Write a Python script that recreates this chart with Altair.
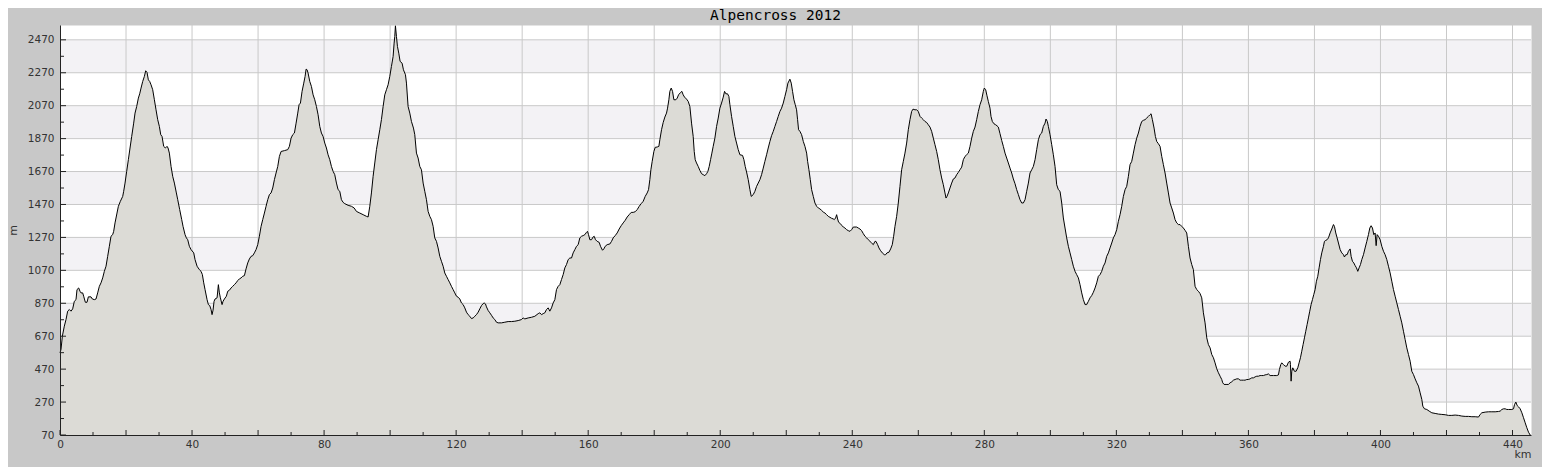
import altair as alt
import pandas as pd

# ---------------- elevation profile (km, m) ----------------
km_a = [0.0, 0.3, 0.71, 1.31, 1.82, 2.32, 2.83, 3.33, 3.84, 4.34,
        4.85, 5.15, 5.66, 6.06, 6.36, 6.87, 7.17, 7.68, 8.18, 8.59,
        9.39, 9.8, 10.4, 10.91, 11.41, 11.92, 12.42, 12.93, 13.43, 13.94,
        14.44, 14.95, 15.45, 15.96, 16.26, 16.67, 17.27, 17.68, 18.28, 18.99,
        19.29, 19.7, 20.2, 20.71, 21.21, 21.72, 22.32, 22.73, 23.23, 23.74,
        24.14, 24.55, 25.05, 25.56, 25.96, 26.36, 26.77, 27.17, 27.58, 28.08,
        28.59, 29.09, 29.6, 30.1, 30.51, 30.91, 31.41, 31.92, 32.42, 32.73,
        33.13, 33.64, 34.14, 34.65, 35.25, 35.66, 36.26, 36.87, 37.27, 37.88,
        38.28, 38.69, 39.19, 39.7, 40.51, 40.91, 41.52, 42.22, 42.73, 43.13,
        43.54, 43.94, 44.55, 44.95, 45.35, 45.76, 46.06, 46.36, 46.67, 46.97,
        47.58, 47.98, 48.28, 48.59, 49.09, 49.39, 49.8, 50.4, 50.81, 51.31,
        51.82, 52.32, 52.83, 53.33, 53.84, 54.34, 54.85, 55.35, 55.86, 56.36,
        56.87, 57.37, 57.88, 58.38, 58.89, 59.39, 59.9, 60.4, 60.91, 61.41,
        61.92, 62.42, 62.93, 63.43, 63.94, 64.44, 64.95, 65.45, 65.96, 66.46,
        66.97, 67.98, 68.99, 69.49, 70.0, 70.51, 71.01, 71.52, 72.02, 72.42,
        72.83, 73.33, 73.84, 74.24, 74.55, 74.85]
m_a = [569, 589, 670, 731, 771, 822, 832, 822, 836, 882,
       892, 953, 963, 943, 933, 933, 913, 876, 876, 909,
       909, 896, 892, 896, 933, 973, 994, 1024, 1064, 1095,
       1155, 1216, 1277, 1287, 1307, 1358, 1418, 1459, 1489, 1519,
       1550, 1600, 1671, 1742, 1813, 1883, 1964, 2025, 2065, 2116,
       2142, 2177, 2217, 2248, 2282, 2272, 2227, 2217, 2197, 2167,
       2106, 2045, 1985, 1944, 1894, 1883, 1823, 1813, 1823, 1813,
       1782, 1701, 1641, 1600, 1540, 1499, 1439, 1378, 1337, 1287,
       1267, 1256, 1216, 1196, 1176, 1135, 1095, 1074, 1064, 1044,
       994, 953, 892, 862, 856, 832, 801, 828, 882, 896,
       903, 983, 933, 903, 862, 882, 896, 913, 943, 949,
       963, 973, 983, 994, 1008, 1018, 1024, 1034, 1038, 1079,
       1115, 1139, 1155, 1159, 1176, 1196, 1226, 1277, 1337, 1378,
       1418, 1459, 1499, 1530, 1540, 1570, 1621, 1661, 1701, 1762,
       1792, 1797, 1803, 1823, 1873, 1894, 1904, 1964, 2025, 2076,
       2086, 2157, 2207, 2248, 2292, 2288]

km_b = [75.15, 75.66, 76.16, 76.67, 77.17, 77.68, 78.18, 78.69, 79.19, 79.7,
        80.2, 80.71, 81.21, 81.72, 82.22, 82.73, 83.23, 83.74, 84.24, 84.75,
        85.25, 85.76, 86.26, 87.27, 88.28, 89.09, 89.8, 90.81, 91.82, 92.83,
        93.33, 93.84, 94.34, 94.85, 95.35, 95.86, 96.36, 96.87, 97.37, 97.88,
        98.38, 98.89, 99.39, 99.9, 100.4, 100.91, 101.21, 101.41, 101.61, 101.92,
        102.22, 102.62, 103.03, 103.63, 104.04, 104.65, 104.95, 105.45, 105.96, 106.46,
        107.07, 107.47, 107.98, 108.48, 108.99, 109.49, 110.0, 110.5, 111.01, 111.51,
        112.02, 112.52, 113.03, 113.53, 114.04, 114.54, 115.05, 115.55, 116.06, 116.56,
        117.07, 117.57, 118.08, 118.58, 119.09, 119.59, 120.1, 120.6, 121.11, 121.61,
        122.12, 122.62, 123.13, 123.63, 124.14, 124.65, 125.15, 125.66, 126.16, 126.67,
        127.17, 127.68, 128.18, 128.48, 128.89, 129.19, 129.7, 130.2, 130.71, 131.21,
        131.72, 132.22, 132.73, 133.74, 134.75, 135.76, 136.77, 137.78, 138.79, 139.8,
        140.3, 140.81, 141.82, 142.83, 143.84, 144.85, 145.35, 145.86, 146.36, 146.87,
        147.37, 147.88, 148.38, 148.89, 149.39, 149.9]
m_b = [2268, 2217, 2187, 2136, 2106, 2065, 2015, 1944, 1904, 1883,
       1843, 1813, 1772, 1742, 1701, 1671, 1651, 1600, 1560, 1550,
       1499, 1483, 1475, 1465, 1459, 1449, 1428, 1418, 1408, 1398,
       1394, 1459, 1540, 1641, 1722, 1803, 1863, 1924, 1985, 2065,
       2136, 2167, 2197, 2248, 2308, 2369, 2450, 2490, 2555, 2490,
       2430, 2389, 2339, 2328, 2288, 2258, 2207, 2065, 2025, 1974,
       1934, 1894, 1782, 1752, 1701, 1681, 1600, 1550, 1499, 1428,
       1398, 1378, 1337, 1267, 1246, 1206, 1155, 1125, 1095, 1054,
       1034, 1014, 994, 973, 953, 933, 913, 907, 896, 872,
       862, 842, 816, 801, 791, 777, 781, 791, 801, 816,
       836, 856, 868, 872, 866, 848, 826, 812, 797, 781,
       771, 755, 751, 751, 755, 759, 759, 761, 765, 771,
       781, 775, 781, 785, 791, 807, 812, 801, 807, 812,
       832, 842, 822, 842, 872, 892]

km_c = [150.4, 150.91, 151.41, 151.92, 152.42, 152.93, 153.43, 153.94, 154.44, 154.95,
        155.45, 155.96, 156.46, 156.97, 157.47, 157.98, 158.48, 158.99, 159.49, 159.79,
        160.1, 160.5, 161.01, 161.51, 161.81, 162.22, 162.72, 163.33, 163.73, 164.34,
        164.74, 165.15, 165.75, 166.56, 167.07, 167.57, 168.18, 168.78, 169.39, 169.99,
        170.6, 171.21, 171.81, 172.42, 173.03, 173.63, 174.24, 174.85, 175.45, 176.06,
        176.66, 177.27, 177.87, 178.28, 178.68, 178.99, 179.39, 179.9, 180.3, 180.91,
        181.41, 181.71, 182.22, 182.72, 183.23, 183.73, 184.04, 184.44, 184.74, 185.15,
        185.55, 185.96, 186.56, 186.97, 187.37, 187.98, 188.38, 188.78, 189.19, 189.79,
        190.3, 190.8, 191.31, 191.81, 192.12, 192.42, 192.82, 193.33, 193.83, 194.34,
        194.85, 195.35, 195.86, 196.26, 196.66, 197.07, 197.47, 197.87, 198.38, 198.89,
        199.39, 199.9, 200.4, 200.91, 201.31, 201.71, 202.22, 202.62, 202.93, 203.43,
        203.94, 204.44, 204.95, 205.45, 205.96, 206.76, 207.17, 207.57, 207.98, 208.48,
        208.99, 209.39, 210.0, 210.5, 211.01, 211.51, 212.02, 212.52, 213.03, 213.53,
        214.04, 214.54, 215.05, 215.55, 216.06, 216.56, 217.07, 217.57, 218.08, 218.58,
        219.09, 219.59, 220.1, 220.5, 221.11, 221.51, 221.91, 222.32, 222.72, 223.13,
        223.43, 223.73, 224.14]
m_c = [953, 973, 983, 1014, 1044, 1085, 1105, 1135, 1145, 1145,
       1176, 1196, 1216, 1226, 1267, 1277, 1281, 1287, 1301, 1307,
       1287, 1256, 1256, 1273, 1277, 1256, 1246, 1240, 1216, 1192,
       1200, 1216, 1226, 1230, 1246, 1267, 1281, 1297, 1321, 1341,
       1358, 1374, 1394, 1408, 1422, 1422, 1426, 1439, 1459, 1475,
       1489, 1519, 1540, 1560, 1621, 1681, 1732, 1792, 1817, 1819,
       1823, 1863, 1924, 1968, 2001, 2025, 2055, 2106, 2157, 2177,
       2157, 2106, 2106, 2116, 2136, 2150, 2157, 2136, 2122, 2110,
       2096, 2065, 1964, 1883, 1792, 1742, 1722, 1701, 1677, 1657,
       1651, 1645, 1657, 1671, 1701, 1742, 1782, 1823, 1873, 1944,
       1995, 2055, 2086, 2122, 2157, 2142, 2142, 2126, 2076, 2005,
       1944, 1883, 1843, 1803, 1772, 1768, 1742, 1701, 1667, 1621,
       1560, 1519, 1530, 1550, 1580, 1600, 1621, 1651, 1691, 1732,
       1772, 1813, 1853, 1888, 1914, 1944, 1974, 2005, 2035, 2055,
       2086, 2126, 2167, 2207, 2231, 2207, 2157, 2106, 2076, 2045,
       1985, 1924, 1914]

km_d = [224.65, 225.16, 225.66, 226.17, 226.47, 226.87, 227.28, 227.68, 228.19, 228.69,
        229.2, 229.7, 230.21, 230.71, 231.22, 231.72, 232.23, 232.73, 233.24, 233.74,
        234.25, 234.55, 234.95, 235.26, 235.56, 235.86, 236.37, 236.77, 237.28, 237.78,
        238.29, 238.79, 239.3, 239.8, 240.31, 240.81, 241.32, 241.82, 242.33, 242.83,
        243.34, 243.84, 244.35, 244.85, 245.36, 245.86, 246.37, 246.87, 247.17, 247.68,
        248.08, 248.49, 249.09, 249.7, 250.1, 250.51, 251.11, 251.62, 252.12, 252.53,
        252.93, 253.44, 253.94, 254.45, 254.95, 255.46, 255.96, 256.47, 256.97, 257.48,
        257.98, 258.39, 258.99, 259.5, 260.0, 260.51, 261.01, 261.52, 262.02, 262.53,
        263.03, 263.54, 264.04, 264.55, 265.05, 265.56, 266.06, 266.57, 267.07, 267.58,
        268.08, 268.39, 268.69, 269.1, 269.6, 270.11, 270.61, 271.12, 271.62, 272.13,
        272.63, 273.14, 273.64, 274.15, 274.65, 275.16, 275.66, 276.17, 276.67, 277.18,
        277.68, 278.19, 278.69, 279.2, 279.7, 280.0, 280.41, 280.81, 281.21, 281.72,
        282.02, 282.43, 282.93, 283.44, 283.84, 284.25, 284.75, 285.26, 285.76, 286.27,
        286.77, 287.28, 287.78, 288.29, 288.79, 289.3, 289.8, 290.31, 290.81, 291.32,
        291.82, 292.33, 292.83, 293.34, 293.84, 294.35, 294.85, 295.36, 295.86, 296.37,
        296.87, 297.38, 297.88, 298.39]
m_d = [1894, 1853, 1823, 1782, 1732, 1681, 1621, 1560, 1519, 1479,
       1459, 1449, 1443, 1434, 1424, 1418, 1408, 1398, 1392, 1386,
       1382, 1378, 1388, 1408, 1382, 1362, 1354, 1344, 1333, 1327,
       1317, 1311, 1307, 1317, 1333, 1333, 1333, 1327, 1321, 1311,
       1293, 1277, 1267, 1256, 1246, 1236, 1226, 1246, 1246, 1226,
       1206, 1192, 1176, 1165, 1165, 1176, 1180, 1200, 1226, 1277,
       1337, 1398, 1479, 1580, 1681, 1732, 1782, 1843, 1924, 1985,
       2035, 2049, 2045, 2045, 2035, 2005, 1995, 1985, 1974, 1968,
       1954, 1940, 1914, 1873, 1833, 1792, 1742, 1681, 1631, 1590,
       1540, 1509, 1519, 1540, 1570, 1600, 1625, 1631, 1651, 1665,
       1681, 1697, 1742, 1762, 1772, 1782, 1823, 1873, 1914, 1940,
       1985, 2035, 2076, 2106, 2157, 2177, 2167, 2130, 2096, 2055,
       2005, 1974, 1960, 1954, 1948, 1940, 1900, 1859, 1823, 1782,
       1752, 1722, 1691, 1661, 1625, 1596, 1560, 1530, 1499, 1479,
       1479, 1499, 1550, 1600, 1661, 1681, 1701, 1742, 1803, 1863,
       1894, 1904, 1944, 1964]

km_e = [298.69, 299.09, 299.4, 299.9, 300.41, 300.91, 301.42, 301.92, 302.43, 302.93,
        303.44, 303.94, 304.45, 304.95, 305.46, 305.96, 306.47, 306.97, 307.48, 307.98,
        308.49, 308.99, 309.5, 310.0, 310.51, 311.01, 311.52, 312.02, 312.53, 313.03,
        313.54, 314.04, 314.55, 315.05, 315.56, 316.06, 316.57, 317.07, 317.58, 318.08,
        318.59, 319.09, 319.6, 320.1, 320.61, 321.11, 321.62, 322.12, 322.63, 323.13,
        323.64, 324.14, 324.65, 325.15, 325.66, 326.16, 326.67, 327.17, 327.68, 328.18,
        328.69, 329.19, 329.7, 330.2, 330.51, 330.91, 331.42, 331.82, 332.22, 332.73,
        333.23, 333.74, 334.24, 334.75, 335.25, 335.76, 336.26, 336.77, 337.27, 337.78,
        338.28, 338.79, 339.29, 339.8, 340.3, 340.81, 341.31, 341.82, 342.32, 342.83,
        343.33, 343.84, 344.34, 344.85, 345.35, 345.86, 346.36, 346.87, 347.38, 347.88,
        348.39, 348.89, 349.4, 349.9, 350.41, 350.91, 351.42, 351.92, 352.22, 352.63,
        353.23, 353.94, 354.45, 354.95, 355.46, 355.96, 356.47, 356.97, 357.48, 357.98,
        358.49, 358.99, 359.5, 360.0, 360.51, 361.01, 361.52, 362.02, 362.53, 363.03,
        363.54, 364.04, 364.55, 365.05, 365.56, 366.06, 366.57, 367.58, 368.59, 369.09,
        369.4, 369.8, 370.1, 370.61, 371.11, 371.62, 372.12, 372.63]
m_e = [1989, 1974, 1944, 1894, 1833, 1772, 1701, 1590, 1560, 1550,
       1479, 1388, 1327, 1267, 1216, 1176, 1135, 1095, 1064, 1044,
       1024, 983, 933, 892, 862, 862, 882, 903, 917, 937,
       963, 994, 1034, 1044, 1064, 1095, 1115, 1155, 1176, 1206,
       1236, 1267, 1287, 1317, 1368, 1408, 1459, 1519, 1560, 1580,
       1641, 1712, 1732, 1782, 1833, 1873, 1904, 1944, 1974, 1981,
       1985, 1995, 2005, 2015, 2021, 1985, 1934, 1883, 1853, 1839,
       1823, 1762, 1712, 1661, 1600, 1540, 1479, 1449, 1418, 1378,
       1358, 1348, 1348, 1337, 1327, 1313, 1297, 1216, 1145, 1105,
       1074, 973, 953, 943, 929, 903, 812, 751, 660, 619,
       599, 559, 539, 508, 472, 448, 427, 407, 387, 377,
       377, 377, 387, 393, 403, 407, 411, 411, 403, 403,
       403, 403, 407, 407, 411, 417, 417, 423, 427, 427,
       431, 431, 431, 435, 437, 441, 431, 431, 431, 435,
       468, 498, 508, 498, 488, 488, 512, 518]

km_f = [372.73, 372.93, 373.13, 373.43, 373.94, 374.44, 374.95, 375.35, 375.76, 376.16,
        376.56, 376.97, 377.37, 377.78, 378.18, 378.58, 378.99, 379.39, 379.8, 380.2,
        380.6, 381.01, 381.41, 381.82, 382.22, 382.73, 383.03, 383.43, 383.84, 384.24,
        384.75, 385.25, 385.76, 386.06, 386.46, 386.87, 387.27, 387.78, 388.28, 388.79,
        389.09, 389.49, 389.9, 390.3, 390.81, 391.11, 391.51, 391.92, 392.32, 392.73,
        393.13, 393.53, 393.94, 394.34, 394.85, 395.35, 395.86, 396.36, 396.77, 397.17,
        397.58, 397.98, 398.38, 398.69, 398.99, 399.39, 399.9, 400.4, 400.91, 401.41,
        401.92, 402.42, 402.93, 403.43, 403.94, 404.44, 404.95, 405.45, 405.96, 406.46,
        406.97, 407.47, 407.98, 408.48, 408.99, 409.49, 410.0, 410.5, 411.01, 411.51,
        412.02, 412.52, 412.83, 413.33, 414.04, 414.75, 415.55, 416.56, 417.57, 418.58,
        419.59, 420.6, 421.61, 422.62, 423.63, 424.64, 425.66, 426.67, 427.68, 428.69,
        429.7, 430.2, 430.71, 431.72, 432.73, 433.74, 434.75, 435.76, 436.26, 436.77,
        437.27, 437.78, 438.28, 438.79, 439.8, 440.3, 440.61, 441.01, 441.41, 441.82,
        442.32, 442.83, 443.33, 443.84, 444.34, 444.85, 445.35]
m_f = [498, 397, 457, 478, 457, 457, 478, 508, 539, 579,
       619, 660, 700, 741, 781, 822, 862, 892, 923, 953,
       1004, 1034, 1085, 1135, 1176, 1216, 1246, 1252, 1256, 1267,
       1297, 1321, 1348, 1337, 1297, 1267, 1236, 1196, 1176, 1165,
       1151, 1165, 1165, 1186, 1200, 1155, 1125, 1115, 1099, 1085,
       1064, 1085, 1105, 1135, 1165, 1206, 1246, 1287, 1327, 1341,
       1327, 1287, 1297, 1220, 1287, 1277, 1256, 1216, 1186, 1165,
       1135, 1095, 1054, 1004, 953, 913, 872, 832, 791, 751,
       700, 650, 599, 559, 518, 457, 437, 411, 387, 367,
       326, 286, 245, 229, 225, 215, 205, 201, 197, 195,
       193, 189, 189, 191, 189, 185, 183, 183, 181, 181,
       179, 195, 205, 209, 211, 211, 211, 213, 215, 225,
       229, 229, 225, 225, 225, 229, 255, 270, 249, 241,
       229, 205, 175, 144, 114, 87, 70]

# ---------------- axis ticks / labels / bands ----------------
y_labels = [70, 270, 470, 670, 870, 1070, 1270, 1470, 1670, 1870, 2070, 2270, 2470]
y_minor = [170, 370, 570, 770, 970, 1170, 1370, 1570, 1770, 1970, 2170, 2370]
x_labels = [0, 40, 80, 120, 160, 200, 240, 280, 320, 360, 400, 440]
x_major = [0, 20, 40, 60, 80, 100, 120, 140, 160, 180, 200, 220,
           240, 260, 280, 300, 320, 340, 360, 380, 400, 420, 440]
x_minor = [10, 30, 50, 70, 90, 110, 130, 150, 170, 190, 210, 230,
           250, 270, 290, 310, 330, 350, 370, 390, 410, 430]
band_lo = [270, 670, 1070, 1470, 1870, 2270]
band_hi = [470, 870, 1270, 1670, 2070, 2470]

km = km_a + km_b + km_c + km_d + km_e + km_f
elev = m_a + m_b + m_c + m_d + m_e + m_f
profile = pd.DataFrame({"km": km, "m": elev})

W, H = 1471, 410
xs = alt.Scale(domain=[0, 445.6], nice=False, zero=False)
ys = alt.Scale(domain=[70, 2560], nice=False, zero=False)

FONT = "DejaVu Sans"
AXC = "#222222"
TXT = "#333333"
GRID = "#c9c9c9"

x_axis = alt.Axis(values=x_labels, title="km", grid=False, ticks=False, tickSize=0,
                  format="d",
                  domainColor=AXC, domainWidth=1, labelFont=FONT, labelFontSize=10.5,
                  labelColor=TXT, labelPadding=4, labelFlush=False, labelOverlap=False,
                  titleFont=FONT, titleFontSize=11, titleFontWeight="normal",
                  titleColor=TXT, titleX=W, titleY=22, titleAlign="right",
                  titleBaseline="alphabetic", titleAnchor="end", zindex=2)
y_axis = alt.Axis(values=y_labels, title="m", grid=False, ticks=False, tickSize=0,
                  format="d",
                  domainColor=AXC, domainWidth=1, labelFont=FONT, labelFontSize=10.5,
                  labelColor=TXT, labelPadding=6, labelFlush=False, labelOverlap=False,
                  titleFont=FONT, titleFontSize=11, titleFontWeight="normal",
                  titleColor=TXT, titleX=-47, titleY=H / 2, titleAngle=270,
                  titleAlign="center", titleBaseline="middle", zindex=2)


def X(field):
    return alt.X(field, scale=xs, axis=x_axis)


def Y(field):
    return alt.Y(field, scale=ys, axis=y_axis)


bands = alt.Chart(pd.DataFrame({"lo": band_lo, "hi": band_hi})).mark_rect(
    color="#f3f2f5").encode(y=Y("lo:Q"), y2="hi:Q", x=alt.value(0), x2=alt.value(W))

hgrid = alt.Chart(pd.DataFrame({"v": y_labels})).mark_rule(
    color=GRID, strokeWidth=1).encode(y=Y("v:Q"))
vgrid = alt.Chart(pd.DataFrame({"v": x_major})).mark_rule(
    color=GRID, strokeWidth=1).encode(x=X("v:Q"))

area = alt.Chart(profile).mark_area(color="#dcdbd6", opacity=1).encode(
    x=X("km:Q"), y=Y("m:Q"), y2=alt.datum(70))
line = alt.Chart(profile).mark_line(color="black", strokeWidth=1).encode(
    x=X("km:Q"), y=Y("m:Q"))

yt_major = alt.Chart(pd.DataFrame({"v": y_labels})).mark_rule(color=AXC).encode(
    y=Y("v:Q"), x=alt.value(0), x2=alt.value(6))
yt_minor = alt.Chart(pd.DataFrame({"v": y_minor})).mark_rule(color=AXC).encode(
    y=Y("v:Q"), x=alt.value(0), x2=alt.value(4))
xt_major = alt.Chart(pd.DataFrame({"v": x_major})).mark_rule(color=AXC).encode(
    x=X("v:Q"), y=alt.value(H), y2=alt.value(H - 5))
xt_minor = alt.Chart(pd.DataFrame({"v": x_minor})).mark_rule(color=AXC).encode(
    x=X("v:Q"), y=alt.value(H), y2=alt.value(H - 3))

chart = alt.layer(
    bands, hgrid, vgrid, area, line, yt_major, yt_minor, xt_major, xt_minor
).properties(
    width=W, height=H,
    title=alt.TitleParams("Alpencross 2012", font="DejaVu Sans Mono", fontSize=14.5,
                          fontWeight="normal", color="#000000", anchor="middle",
                          frame="group", dx=-20, offset=0),
    padding={"left": 52, "top": 17, "right": 11, "bottom": 32},
    autosize=alt.AutoSizeParams(type="none"),
).configure(background="#c8c8c8").configure_view(fill="white", stroke="transparent")

chart.save("out.html", embed_options={"renderer": "svg", "actions": False})
